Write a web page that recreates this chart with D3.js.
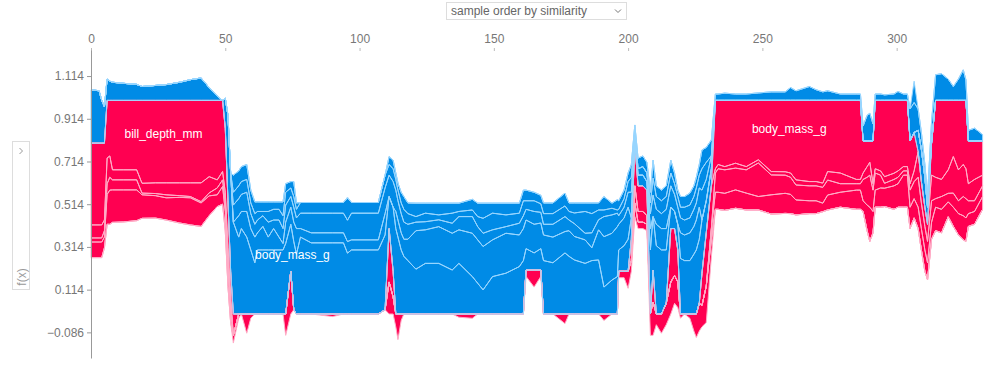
<!DOCTYPE html>
<html>
<head>
<meta charset="utf-8">
<script src="https://cdn.jsdelivr.net/npm/d3@7"></script>
<style>
  body { margin: 0; background: #fff; font-family: "Liberation Sans", Arial, sans-serif; }
  .axis text { font-size: 12px; fill: #777; font-family: "Liberation Sans", Arial, sans-serif; }
</style>
</head>
<body>
<div id="chart"></div>
<script>
// feature order = stacking order (first one sits next to f(x))
var features = ["body_mass_g", "bill_depth_mm", "flipper_length_mm", "bill_length_mm", "island", "sex"];
var xTicks = [0, 50, 100, 150, 200, 250, 300];
var yTicks = [-0.086, 0.114, 0.314, 0.514, 0.714, 0.914, 1.114];

// samples (ordered by similarity) and model output
var sampleIdx = [0,3,4,5,6,7,8,12,17,19,24,28,33,37,41,44,47,49,50,51,52,53,55,56,58,59.5,61,
  62,64,66,68,70,71.5,72.5,74.4,75.5,76.5,
  78,82,90,94,95.5,97,107,
  109.5,111,112.5,113.5,114.3,115.5,116.5,118,
  121,124.5,129.5,134.5,137,142,144,146,149.5,154.5,159.5,161,162,165,167.5,168.5,
  172,176.5,178,180,184,186.5,189,191,194,196,
  196.5,198.5,200,201.2,202.5,203.7,205.5,207,208.3,209.3,210.5,212.4,214.2,215.9,217.3,218.5,219.5,221,223,224.5,225.4,226.5,227.5,229.1,231,232.5,
  233.5,236,240,244,248.5,253.3,258.5,260.5,262.5,267.5,270,272.5,274.3,279,285,286.5,287.5,289,290,291.2,292,
  294,295.5,299,300.5,302.5,304,305,306.5,308,309.2,310.5,311.5,313,314.5,316.7,319.2,321.1,323,324.8,325.8,326.7,329,332];

var fx = [.80,.80,.80,.80,1,1,1,1,1,1,1,1,1,1,1,1,1,1,.87,.53,.20,0,0,0,0,0,0,
  0,0,0,0,0,0,0,.20,.02,0,
  0,0,0,0,0,0,0,
  .02,.40,.20,0,0,0,0,0,
  0,0,0,0,0,0,0,0,0,0,0,0,.206,.206,.206,0,
  0,0,0,0,0,0,0,0,0,0,
  .20,.20,.20,.35,.80,.60,.60,.58,0,.206,0,0,.05,.40,.40,.30,0,0,0,0,0,.05,.19,.38,.60,1,
  1,1,1,1,1,1,1,1,1,1,1,1,1,1,1,1,.81,.81,.81,.81,1,
  1,1,1,1,1,1,.81,.85,.76,.62,.50,.42,.80,1,1,1,1,1,1,1,.81,.81,.81];

// SHAP values per feature
var shapBodyMass = [-.25,-.245,-.20,-.17,-.10,-.09,-.085,-.08,-.075,-.065,-.07,-.074,-.085,-.097,-.105,-.06,-.02,0,-.14,-.40,-.46,-.43,-.36,-.40,-.36,-.30,-.24,
  -.30,-.30,-.30,-.30,-.30,-.30,-.33,-.22,-.32,-.28,
  -.36,-.333,-.333,-.333,-.285,-.30,-.30,
  -.35,-.15,-.30,-.40,-.36,-.30,-.27,-.25,
  -.21,-.237,-.237,-.206,-.237,-.175,-.144,-.113,-.175,-.191,-.222,-.25,-.10,-.08,-.10,-.25,
  -.24,-.286,-.27,-.253,-.237,-.25,-.253,-.126,-.159,-.175,
  -.10,-.12,-.15,-.10,-.04,-.05,-.05,-.04,-.30,-.25,-.32,-.30,-.25,-.10,-.08,-.12,-.26,-.25,-.25,-.28,-.30,-.30,-.25,-.15,-.08,.32,
  .30,.31,.294,.31,.278,.333,.334,.34,.372,.38,.38,.387,.333,.34,.37,.37,.15,.12,.10,.20,.32,
  .33,.357,.341,.33,.31,.31,.20,.18,-.10,-.15,-.14,-.08,.15,.36,.37,.325,.263,.325,.30,.32,.20,.18,.16];

var shapBillDepth = [.383,.383,.383,.36,.27,.26,.325,.325,.325,.388,.386,.386,.386,.386,.386,.357,.372,.333,.30,.22,.12,.10,-.10,-.08,-.12,-.10,-.12,
  -.08,-.11,-.06,-.10,-.06,-.03,-.10,-.08,-.09,-.12,
  -.04,-.047,-.047,-.047,-.054,-.047,-.047,
  -.10,.25,.12,-.08,-.08,-.08,-.08,-.10,
  -.18,-.157,-.172,-.172,-.157,-.203,-.203,-.203,-.172,-.187,-.148,-.15,-.134,-.134,-.12,-.12,
  -.12,-.10,-.12,-.11,-.11,-.06,-.141,-.236,-.219,-.234,
  -.12,-.13,-.15,.10,.20,.12,.12,.12,-.10,.15,-.10,-.10,-.10,.25,.22,.15,-.12,-.12,-.13,-.13,-.14,-.15,.15,.25,.20,.02,
  .02,.015,.023,.015,.015,.016,.016,.02,.024,.02,.02,.02,.04,.05,.02,.02,.03,.05,.06,.03,.02,
  .02,.031,.029,.03,.02,.02,.03,.05,.12,.10,.09,.08,.12,.10,.08,.11,.171,.145,.15,.14,.08,.10,.05];

var shapFlipper = [.061,.061,.061,.05,.12,.10,.047,.047,.047,.046,.05,.056,.06,.064,.088,.076,.038,.039,.05,.06,.04,-.08,-.08,-.08,-.09,-.07,-.06,
  -.06,-.05,-.07,-.04,-.08,-.07,-.08,-.05,-.07,-.05,
  -.072,-.092,-.092,-.092,-.10,-.125,-.125,
  -.12,-.10,-.12,-.10,-.09,-.09,-.08,-.07,
  -.04,-.038,-.032,-.047,-.062,-.078,-.062,-.062,-.047,-.031,-.055,-.06,-.05,-.06,-.05,-.05,
  -.06,-.07,-.05,-.06,-.031,-.07,-.047,-.094,-.086,-.063,
  -.04,-.05,-.07,-.12,-.02,-.03,-.04,-.04,-.07,-.10,-.07,-.07,-.09,-.10,-.08,-.08,-.07,-.07,-.07,-.08,-.08,-.09,-.14,-.10,-.06,.09,
  .11,.11,.102,.109,.157,.093,.085,.08,.07,.07,.07,.074,.07,.04,.03,.03,.10,.13,.15,.10,.08,
  .06,.023,.03,.03,.02,.02,.08,.08,.14,.12,.11,.10,.10,.04,.06,.04,.066,.06,.09,.09,.06,.05,.05];

var shapBillLength = [.019,.019,.019,.03,.05,.06,.047,.047,.047,.008,.01,.014,.008,.006,.006,.014,.032,.031,.04,.03,.02,-.06,-.06,-.06,-.06,-.05,-.05,
  -.04,-.02,-.05,-.05,-.05,-.06,-.06,-.04,-.05,-.04,
  -.05,-.05,-.05,-.05,-.105,-.05,-.05,
  -.06,-.05,-.06,-.05,-.05,-.05,-.06,-.05,
  -.026,-.04,-.023,-.047,-.024,-.031,-.047,-.07,-.078,-.055,-.047,-.07,-.04,-.05,-.04,-.05,
  -.05,-.05,-.04,-.05,-.102,-.09,-.046,-.031,-.031,-.015,
  -.03,-.04,-.05,-.07,.08,.05,.05,.04,-.05,-.08,-.06,-.06,-.06,-.06,-.05,-.05,-.05,-.06,-.06,-.06,-.07,-.06,-.10,-.08,.05,.08,
  .08,.08,.086,.079,.063,.09,.094,.09,.07,.06,.06,.04,.07,.07,.09,.09,.05,.12,.16,.10,.08,
  .09,.086,.11,.11,.15,.15,.10,.09,.10,.10,.10,.08,.08,.11,.11,.07,.09,.10,.113,.11,.06,.06,.06];

var shapIsland = [.073,.073,.073,.05,.14,.16,.152,.15,.144,.11,.105,.104,.12,.127,.11,.093,.055,.083,.09,.09,.06,-.08,-.07,-.07,-.07,-.06,-.055,
  -.045,-.045,-.045,-.035,-.035,-.065,-.04,-.03,-.07,-.03,
  0,0,0,0,0,0,0,
  0,-.037,-.04,-.03,-.033,-.05,-.06,-.05,
  -.063,-.047,-.055,-.047,-.039,-.05,-.063,-.071,-.047,-.055,-.047,-.05,-.05,-.04,-.04,-.05,
  -.05,-.06,-.04,-.047,-.04,-.05,-.033,-.063,-.024,-.048,
  -.04,-.04,-.04,-.06,-.025,-.05,-.05,-.05,-.05,-.084,-.05,-.05,-.05,-.06,-.05,-.03,-.05,-.05,-.056,-.05,-.05,-.05,-.088,-.07,-.075,-.03,
  -.03,-.034,-.03,-.03,-.035,-.04,-.04,-.06,-.045,-.065,-.05,-.04,-.045,-.03,-.03,-.03,-.07,-.12,-.13,-.08,-.03,
  -.03,-.026,-.03,-.042,-.03,-.03,-.15,-.14,-.10,-.08,-.06,-.05,-.10,-.12,-.125,-.10,-.065,-.10,-.143,-.096,-.05,-.06,-.03];

var shapSex = [0,0,0,0,0,0,0,0,0,0,0,0,0,0,0,0,0,0,0,0,0,.036,.02,0,.09,.02,0,
  0,0,0,0,0,0,.10,.20,0,0,
  0,0,.012,0,0,0,0,
  0,.15,.08,.06,.12,.03,0,0,
  0,0,0,0,.015,.02,0,0,0,0,0,0,.03,.08,.03,0,
  0,.045,0,0,0,0,0,.03,0,0,
  .03,.03,.08,.05,.064,.03,.03,.03,.10,.156,.05,.09,.10,.15,.13,.12,.02,0,.02,.08,.11,.13,.10,.17,.083,0,
  0,0,0,0,0,0,0,0,0,0,0,0,0,0,0,0,0,0,0,0,0,
  0,0,0,0,0,0,0,-.10,0,0,0,0,0,0,0,0,0,0,0,0,0,0,0];

var labelFeature = ["bill_depth_mm", "body_mass_g", "body_mass_g"];
var labelSample = [27, 75, 260];

var width = 989, height = 392;
var red = "#ff0051", blue = "#008be6";
var redLine = d3.hsl(red).brighter(1.45), blueLine = d3.hsl(blue).brighter(1.6);

var shap = {
  "body_mass_g": shapBodyMass, "bill_depth_mm": shapBillDepth, "flipper_length_mm": shapFlipper,
  "bill_length_mm": shapBillLength, "island": shapIsland, "sex": shapSex
};
var rows = sampleIdx.map(function (s, j) {
  var r = { s: s, fx: fx[j] };
  features.forEach(function (f) { r[f] = shap[f][j]; });
  return r;
});

var svg = d3.select("#chart").append("svg")
  .attr("width", width).attr("height", height);

var x = d3.scaleLinear().domain([0, 332]).range([91, 982.6]);
var y = d3.scaleLinear().domain([-0.206, 1.236]).range([358, 50]);

// positive effects hang below f(x), negative ones sit above it
var posStack = d3.stack().keys(features).value(function (d, k) { return Math.max(0, d[k]); })(rows);
var negStack = d3.stack().keys(features).value(function (d, k) { return Math.max(0, -d[k]); })(rows);

var areaPos = d3.area()
  .x(function (d) { return x(d.data.s); })
  .y0(function (d) { return y(d.data.fx - d[0]); })
  .y1(function (d) { return y(d.data.fx - d[1]); });
var areaNeg = d3.area()
  .x(function (d) { return x(d.data.s); })
  .y0(function (d) { return y(d.data.fx + d[0]); })
  .y1(function (d) { return y(d.data.fx + d[1]); });

var plot = svg.append("g");
plot.selectAll(".pos").data(posStack).enter().append("path")
  .attr("d", areaPos).attr("fill", red);
plot.selectAll(".neg").data(negStack).enter().append("path")
  .attr("d", areaNeg).attr("fill", blue);
plot.selectAll(".posline").data(posStack).enter().append("path")
  .attr("d", areaPos).attr("fill", "none")
  .attr("stroke", redLine).attr("stroke-width", 1);
plot.selectAll(".negline").data(negStack).enter().append("path")
  .attr("d", areaNeg).attr("fill", "none")
  .attr("stroke", blueLine).attr("stroke-width", 1);

// feature labels in the middle of their band
function bandMid(f, j) {
  var k = features.indexOf(f), r = rows[j];
  if (r[f] > 0) return r.fx - (posStack[k][j][0] + posStack[k][j][1]) / 2;
  return r.fx + (negStack[k][j][0] + negStack[k][j][1]) / 2;
}
labelFeature.forEach(function (f, i) {
  var s = labelSample[i];
  var j = Math.max(1, d3.bisectLeft(sampleIdx, s));
  var t = (s - sampleIdx[j - 1]) / (sampleIdx[j] - sampleIdx[j - 1]);
  var v = bandMid(f, j - 1) * (1 - t) + bandMid(f, j) * t;
  svg.append("text")
    .attr("x", x(s)).attr("y", y(v))
    .attr("dy", "-0.3em")
    .attr("text-anchor", "middle")
    .attr("fill", "#fff")
    .style("font-size", "12px")
    .text(f);
});

// axes
var xAxis = svg.append("g").attr("class", "axis")
  .attr("transform", "translate(0,51)")
  .call(d3.axisTop(x).tickValues(xTicks).tickSize(3).tickPadding(5));
xAxis.select(".domain").remove();
xAxis.selectAll(".tick line").attr("stroke", "#bbb");

var yAxis = svg.append("g").attr("class", "axis")
  .attr("transform", "translate(91,0)")
  .call(d3.axisLeft(y).tickValues(yTicks).tickSize(4).tickSizeOuter(0).tickPadding(3)
    .tickFormat(d3.format(".3f")));
yAxis.select(".domain").attr("stroke", "#999");
yAxis.selectAll(".tick line").attr("stroke", "#999");

// sort selector on top
svg.append("rect").attr("x", 446.5).attr("y", 2.5).attr("width", 180).attr("height", 17)
  .attr("fill", "#fff").attr("stroke", "#ddd");
svg.append("text").attr("x", 451).attr("y", 15)
  .attr("fill", "#666").style("font-size", "12px")
  .text("sample order by similarity");
svg.append("path").attr("d", "M615,9.5L618,12.5L621,9.5")
  .attr("fill", "none").attr("stroke", "#777");

// y output selector on the left
svg.append("rect").attr("x", 12.5).attr("y", 141.5).attr("width", 17).attr("height", 148)
  .attr("fill", "#fff").attr("stroke", "#ddd");
svg.append("path").attr("d", "M19.5,148L22.5,151L19.5,154")
  .attr("fill", "none").attr("stroke", "#999");
svg.append("text")
  .attr("transform", "translate(25.5,277) rotate(-90)")
  .attr("text-anchor", "middle")
  .attr("fill", "#999").style("font-size", "12px")
  .text("f(x)");
</script>
</body>
</html>
